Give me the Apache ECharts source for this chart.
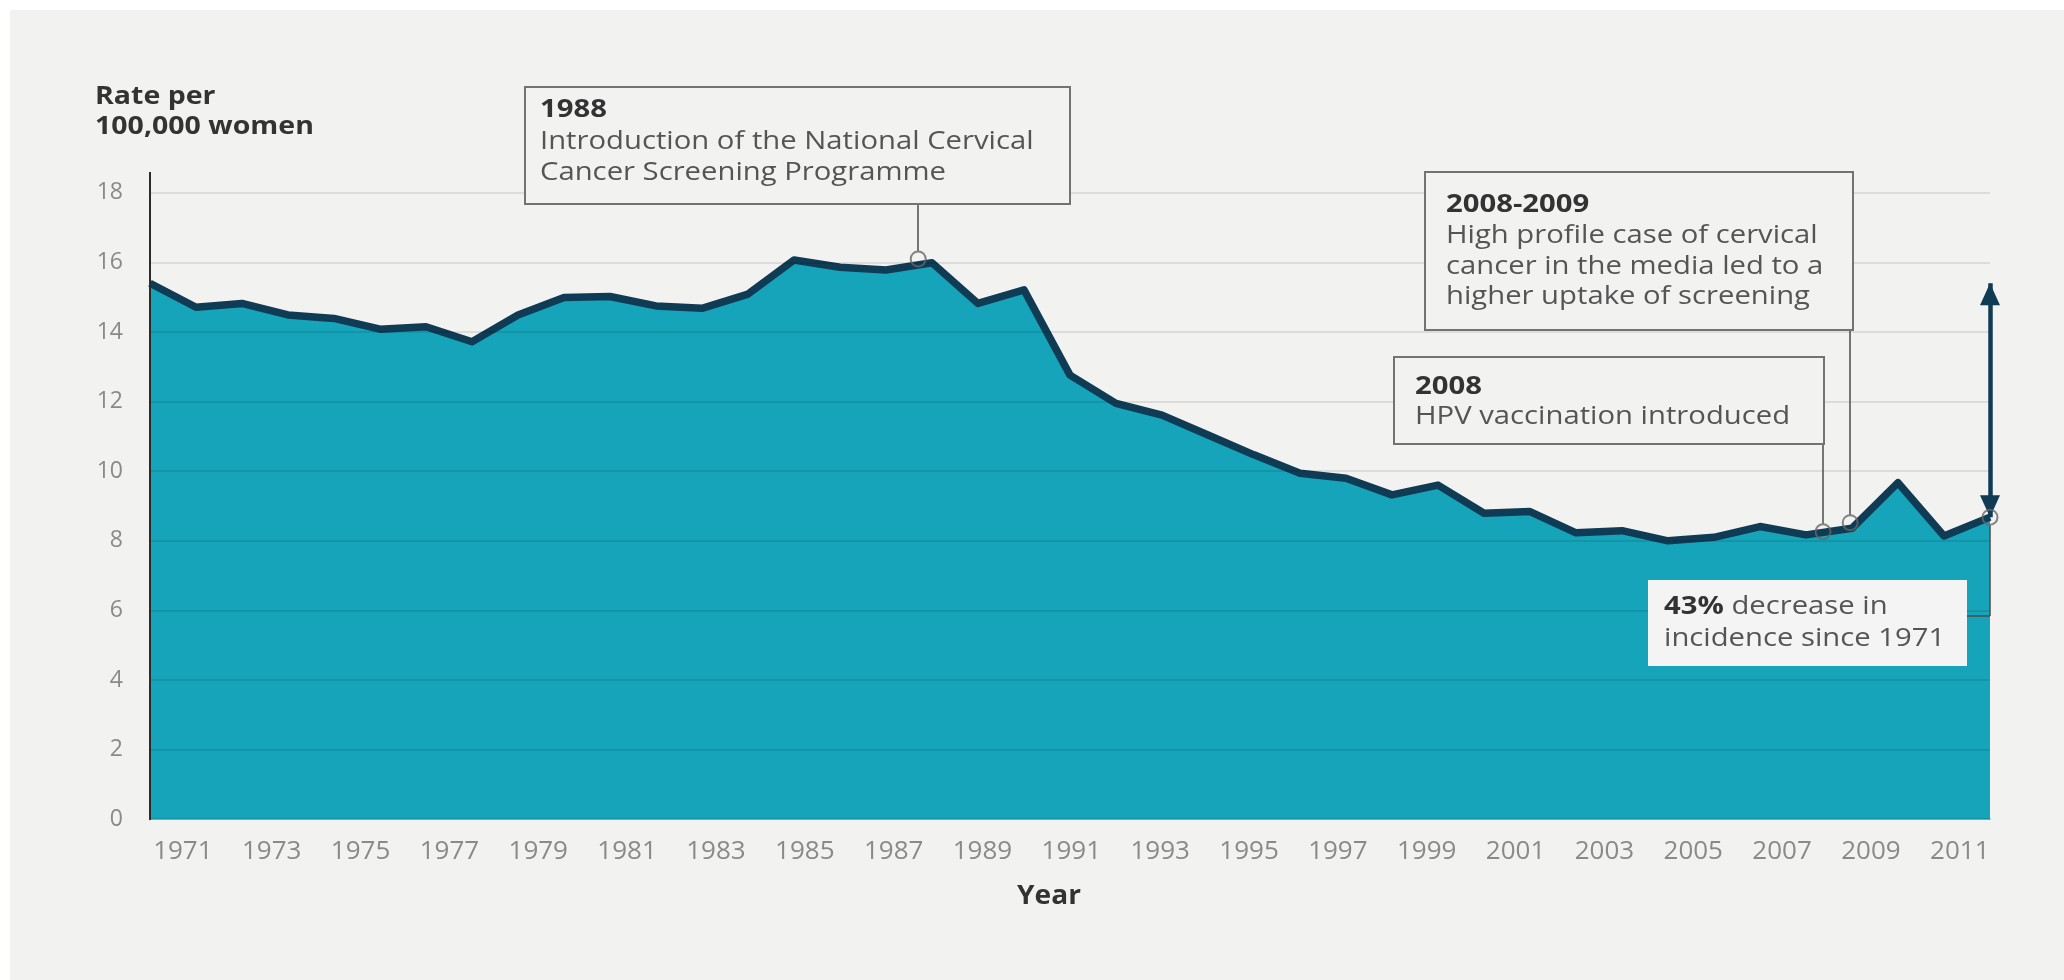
<!DOCTYPE html>
<html lang="en">
<head>
<meta charset="UTF-8">
<title>Cervical cancer incidence</title>
<script src="https://cdn.jsdelivr.net/npm/echarts@6/dist/echarts.min.js"></script>
<style>
    body { margin: 0; background: #fff; }
    #main { position: absolute; left: 10px; top: 10px; width: 2054px; height: 970px; background: #f2f2f1; }
</style>
</head>
<body>
<div id="main"></div>
<script type="text/javascript">
    // rate per 100,000 women
    var years = [1971, 1972, 1973, 1974, 1975, 1976, 1977, 1978, 1979, 1980,
        1981, 1982, 1983, 1984, 1985, 1986, 1987, 1988, 1989, 1990,
        1991, 1992, 1993, 1994, 1995, 1996, 1997, 1998, 1999, 2000,
        2001, 2002, 2003, 2004, 2005, 2006, 2007, 2008, 2009, 2010, 2011];
    var rates = [15.40, 14.71, 14.82, 14.49, 14.39, 14.08, 14.15, 13.72, 14.49, 14.99,
        15.02, 14.75, 14.68, 15.09, 16.07, 15.86, 15.78, 15.99, 14.82, 15.21,
        12.76, 11.95, 11.61, 11.04, 10.47, 9.94, 9.80, 9.32, 9.60, 8.79,
        8.84, 8.23, 8.29, 8.00, 8.10, 8.41, 8.17, 8.36, 9.67, 8.14, 8.68];
    var tickYears = [1971, 1973, 1975, 1977, 1979, 1981, 1983, 1985, 1987, 1989, 1991,
        1993, 1995, 1997, 1999, 2001, 2003, 2005, 2007, 2009, 2011];

    // small circles where the notes point
    var noteYears = [1987.7, 2007.37, 2007.96, 2011];
    var noteRates = [16.1, 8.26, 8.52, 8.68];

    var font = 'Open Sans';
    var chart = echarts.init(document.getElementById('main'));

    var lineData = years.map(function (y, i) { return [y, rates[i]]; });
    var noteData = noteYears.map(function (y, i) { return [y, noteRates[i]]; });

    function box(x, y, w, h, fill, stroke) {
        return {
            type: 'rect', z: 10,
            shape: {x: x, y: y, width: w, height: h},
            style: {fill: fill, stroke: stroke, lineWidth: stroke ? 2 : 0}
        };
    }

    function note(x, y, text, lh) {
        return {
            type: 'text', z: 11, x: x, y: y, scaleX: 1.17,
            style: {
                text: text, fill: '#555', fontSize: 25, fontFamily: font,
                lineHeight: lh, verticalAlign: 'top',
                rich: {
                    b: {fontWeight: 'bold', fill: '#333', fontSize: 25, fontFamily: font, lineHeight: lh}
                }
            }
        };
    }

    var option = {
        animation: false,
        grid: {left: 140, right: 74, top: 182.8, bottom: 160.8, containLabel: false, outerBoundsMode: 'none'},
        xAxis: [
            {
                type: 'value', min: 1971, max: 2011, position: 'bottom',
                axisLine: {show: true, onZero: false, lineStyle: {color: '#86d6e0', width: 2}},
                axisTick: {show: false},
                axisLabel: {show: false},
                splitLine: {show: false}
            },
            {
                type: 'value', min: 1970.26, max: 2011.68, position: 'bottom',
                axisLine: {show: false},
                axisTick: {show: false},
                splitLine: {show: false},
                axisLabel: {
                    customValues: tickYears,
                    formatter: function (v) { return String(v); },
                    color: '#8a8a8a', fontSize: 26, fontFamily: font, margin: 19
                }
            }
        ],
        yAxis: {
            type: 'value', min: 0, max: 18, interval: 2, z: 3,
            axisLine: {show: true, lineStyle: {color: '#2b2b2b', width: 2}},
            axisTick: {show: false},
            axisLabel: {color: '#8a8a8a', fontSize: 23, fontFamily: font, margin: 27},
            splitLine: {lineStyle: {color: 'rgba(0,0,0,0.09)', width: 2}}
        },
        series: [
            {
                type: 'line', xAxisIndex: 0, z: 2,
                data: lineData,
                symbol: 'none',
                lineStyle: {color: '#0f3b55', width: 7.5, join: 'round'},
                areaStyle: {color: '#15a4b9', opacity: 1},
                markLine: {
                    silent: true,
                    label: {show: false},
                    symbol: ['triangle', 'triangle'],
                    symbolSize: [20, 22],
                    symbolOffset: [[0, 11], [0, 11]],
                    lineStyle: {color: '#0f3b55', width: 4.5, type: 'solid'},
                    data: [
                        [{coord: [2011, rates[0]]}, {coord: [2011, rates[rates.length - 1]]}]
                    ]
                }
            },
            {
                type: 'scatter', xAxisIndex: 0, z: 6, silent: true,
                data: noteData,
                symbol: 'circle', symbolSize: 15,
                itemStyle: {color: 'rgba(0,0,0,0)', borderColor: '#666', borderWidth: 2},
                markLine: {
                    silent: true,
                    label: {show: false},
                    symbol: ['none', 'none'],
                    lineStyle: {color: '#4d4d4d', width: 1.5, type: 'solid'},
                    data: [
                        [{coord: [1987.7, 17.68]}, {coord: [1987.7, 16.33]}],
                        [{coord: [2007.37, 10.78]}, {coord: [2007.37, 8.49]}],
                        [{coord: [2007.96, 14.05]}, {coord: [2007.96, 8.74]}],
                        [{coord: [2011, 8.45]}, {coord: [2011, 5.84]}],
                        [{coord: [2011, 5.84]}, {coord: [2010.5, 5.84]}]
                    ]
                }
            }
        ],
        graphic: [
            {
                type: 'text', x: 85, y: 72, scaleX: 1.14, z: 11,
                style: {
                    text: 'Rate per\n100,000 women', fill: '#333', fontSize: 25, fontWeight: 'bold',
                    fontFamily: font, lineHeight: 30, verticalAlign: 'top'
                }
            },
            {
                type: 'text', x: 1039, y: 887, scaleX: 1.08, z: 11,
                style: {
                    text: 'Year', fill: '#333', fontSize: 26, fontWeight: 'bold', fontFamily: font,
                    align: 'center', verticalAlign: 'middle'
                }
            },
            box(515, 77, 545, 117, '#f2f2f1', '#737373'),
            note(530, 84.5, '{b|1988}\nIntroduction of the National Cervical\nCancer Screening Programme', 31.5),
            box(1415, 162, 428, 158, '#f2f2f1', '#737373'),
            note(1436, 179.7, '{b|2008-2009}\nHigh profile case of cervical\ncancer in the media led to a\nhigher uptake of screening', 30.7),
            box(1384, 347, 430, 87, '#f2f2f1', '#737373'),
            note(1405, 362, '{b|2008}\nHPV vaccination introduced', 30),
            box(1638, 570, 319, 86, '#f4f4f4', null),
            note(1654, 581, '{b|43%} decrease in\nincidence since 1971', 32)
        ]
    };
    chart.setOption(option);

    // the y axis line runs a little above the 18 gridline
    var top18 = chart.convertToPixel({xAxisIndex: 0, yAxisIndex: 0}, [1971, 18]);
    chart.setOption({
        graphic: option.graphic.concat([{
            type: 'line', z: 11,
            shape: {x1: top18[0], y1: 162, x2: top18[0], y2: top18[1]},
            style: {stroke: '#2b2b2b', lineWidth: 2}
        }])
    });
</script>
</body>
</html>
